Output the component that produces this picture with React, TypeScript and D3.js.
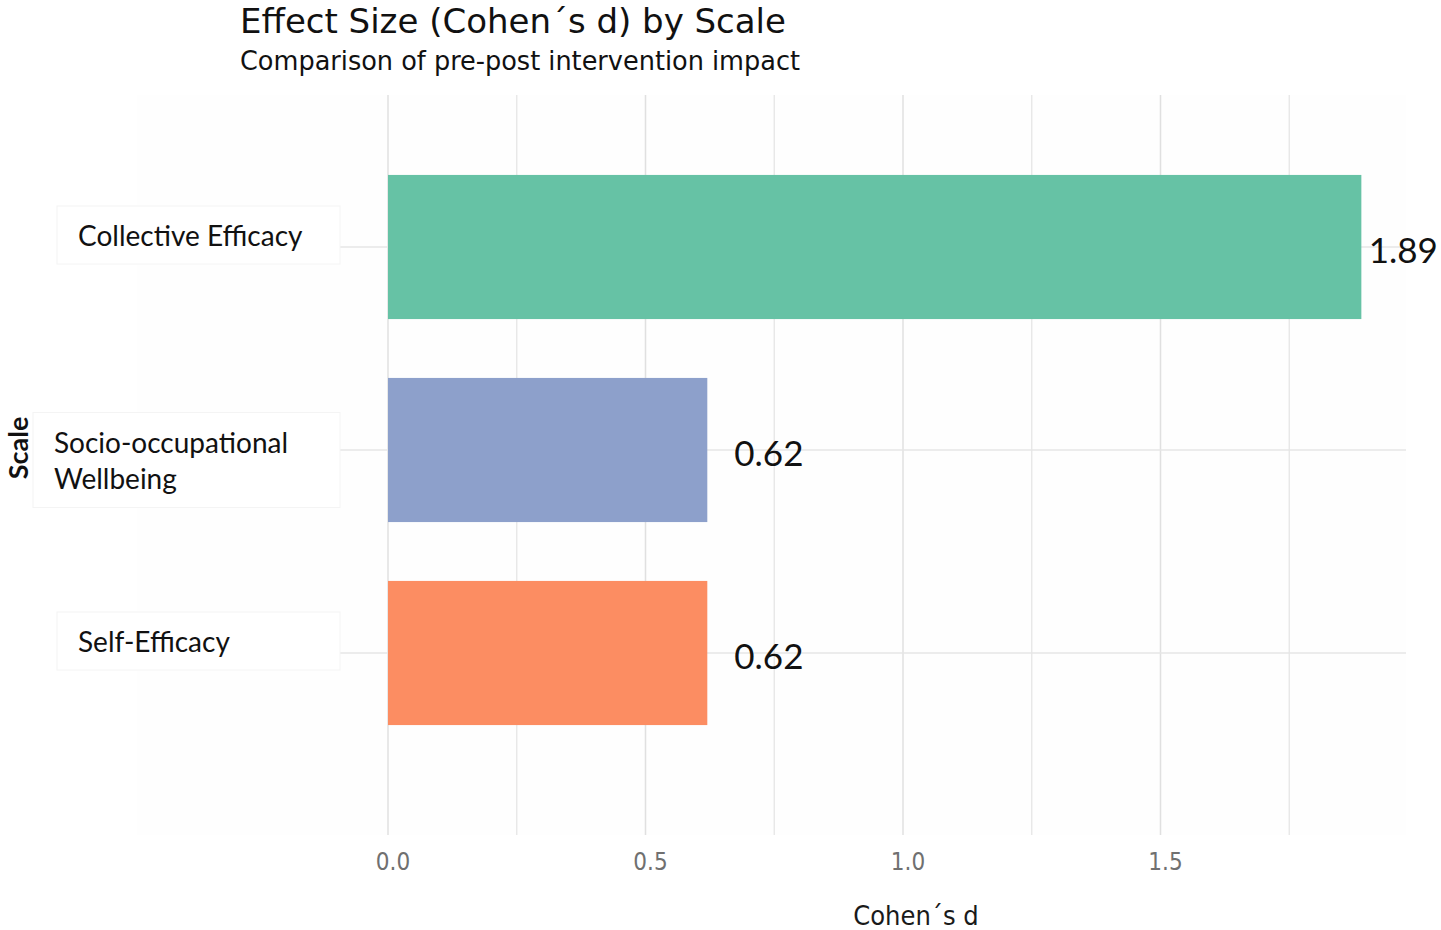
import * as React from 'react';
import {useEffect, useRef} from 'react';
import {select as d3Select, scaleLinear as d3ScaleLinear, scaleBand as d3ScaleBand} from 'd3';

const scales = ['Collective Efficacy', 'Socio-occupational Wellbeing', 'Self-Efficacy'];
const scaleLines = [['Collective Efficacy'], ['Socio-occupational', 'Wellbeing'], ['Self-Efficacy']];
const cohensD = [1.89, 0.62, 0.62];
const barColors = ['#66c2a5', '#8da0cb', '#fc8d62'];
const majorTicks = [0, 0.5, 1.0, 1.5];
const minorTicks = [0.25, 0.75, 1.25, 1.75];

const title = 'Effect Size (Cohen\u00b4s d) by Scale';
const subtitle = 'Comparison of pre-post intervention impact';
const xTitle = 'Cohen\u00b4s d';
const yTitle = 'Scale';

const W = 1441;
const H = 930;
const CONDENSED = "'Liberation Sans Narrow', 'DejaVu Sans Condensed', 'Roboto', sans-serif";
const LABEL_FONT = "'Lato', 'Open Sans', sans-serif";

export default function App() {
  const ref = useRef<SVGSVGElement>(null);

  useEffect(() => {
    const svg = d3Select(ref.current);
    svg.selectAll('*').remove();

    const panel = {left: 137, right: 1406, top: 95, bottom: 835};

    // x: 0 sits at 388px, 1 unit ~ 515px
    const x = d3ScaleLinear().domain([0, 1]).range([388, 903]);
    const y = d3ScaleBand<string>()
      .domain(scales)
      .range([145.5, 754.5])
      .paddingInner(0.29)
      .paddingOuter(0.145);

    svg.append('rect')
      .attr('x', 0).attr('y', 0).attr('width', W).attr('height', H)
      .attr('fill', '#ffffff');

    svg.append('rect')
      .attr('x', panel.left).attr('y', panel.top)
      .attr('width', panel.right - panel.left).attr('height', panel.bottom - panel.top)
      .attr('fill', '#fefefe');

    // vertical gridlines
    const grid = svg.append('g');
    grid.selectAll('line.minor')
      .data(minorTicks)
      .enter().append('line')
      .attr('class', 'minor')
      .attr('x1', (d) => x(d)).attr('x2', (d) => x(d))
      .attr('y1', panel.top).attr('y2', panel.bottom)
      .attr('stroke', '#e6e6e6').attr('stroke-width', 1.3);
    grid.selectAll('line.major')
      .data(majorTicks)
      .enter().append('line')
      .attr('class', 'major')
      .attr('x1', (d) => x(d)).attr('x2', (d) => x(d))
      .attr('y1', panel.top).attr('y2', panel.bottom)
      .attr('stroke', '#e0e0e0').attr('stroke-width', 1.5);

    // horizontal gridlines (start where the label boxes end)
    grid.selectAll('line.h')
      .data(scales)
      .enter().append('line')
      .attr('class', 'h')
      .attr('x1', 340).attr('x2', panel.right)
      .attr('y1', (d) => y(d)! + y.bandwidth() / 2)
      .attr('y2', (d) => y(d)! + y.bandwidth() / 2)
      .attr('stroke', '#e6e6e6').attr('stroke-width', 1.5);

    // bars
    svg.append('g').selectAll('rect')
      .data(scales)
      .enter().append('rect')
      .attr('x', x(0))
      .attr('y', (d) => y(d)!)
      .attr('width', (_, i) => x(cohensD[i]) - x(0))
      .attr('height', y.bandwidth())
      .attr('fill', (_, i) => barColors[i]);

    // value labels
    const labelSize = 35;
    svg.append('g').selectAll('text')
      .data(scales)
      .enter().append('text')
      .attr('x', (_, i) => Math.min(x(cohensD[i]) + 27, W - 4 - labelSize * 1.95))
      .attr('y', (d) => y(d)! + y.bandwidth() / 2 + 2)
      .attr('dominant-baseline', 'central')
      .style('font-family', LABEL_FONT)
      .style('font-size', `${labelSize}px`)
      .attr('fill', '#111')
      .text((_, i) => cohensD[i].toFixed(2));

    // category labels in their faint boxes
    const cats = svg.append('g');
    scales.forEach((s, i) => {
      const lines = scaleLines[i];
      const multi = lines.length > 1;
      const cy = y(s)! + y.bandwidth() / 2 + (multi ? 10 : -12);
      const boxH = multi ? 95 : 58;
      const boxX = multi ? 33 : 57;
      cats.append('rect')
        .attr('x', boxX).attr('y', cy - boxH / 2)
        .attr('width', 340 - boxX).attr('height', boxH)
        .attr('fill', '#ffffff').attr('stroke', '#f4f4f4');
      const t = cats.append('text')
        .style('font-family', LABEL_FONT)
        .style('font-size', '28px')
        .attr('fill', '#111');
      lines.forEach((ln, j) => {
        t.append('tspan')
          .attr('x', boxX + 21)
          .attr('y', cy + (j - (lines.length - 1) / 2) * 36)
          .attr('dominant-baseline', 'central')
          .text(ln);
      });
    });

    // x tick labels
    svg.append('g').selectAll('text')
      .data(majorTicks)
      .enter().append('text')
      .attr('x', (d) => x(d) + 5)
      .attr('y', 862)
      .attr('text-anchor', 'middle')
      .attr('dominant-baseline', 'central')
      .style('font-family', CONDENSED)
      .style('font-size', '24px')
      .attr('fill', '#707070')
      .text((d) => d.toFixed(1));

    // axis titles
    svg.append('text')
      .attr('x', 916).attr('y', 915)
      .attr('text-anchor', 'middle')
      .attr('dominant-baseline', 'central')
      .style('font-family', CONDENSED)
      .style('font-size', '27px')
      .attr('fill', '#1a1a1a')
      .text(xTitle);

    svg.append('text')
      .attr('transform', 'translate(17, 448) rotate(-90)')
      .attr('text-anchor', 'middle')
      .attr('dominant-baseline', 'central')
      .style('font-family', LABEL_FONT)
      .style('font-size', '27px')
      .style('font-weight', 'bold')
      .attr('fill', '#111')
      .text(yTitle);

    // title + subtitle
    svg.append('text')
      .attr('x', 240).attr('y', 33)
      .attr('textLength', 546)
      .attr('lengthAdjust', 'spacingAndGlyphs')
      .style('font-family', CONDENSED)
      .style('font-size', '34px')
      .attr('fill', '#111')
      .text(title);

    svg.append('text')
      .attr('x', 240).attr('y', 70)
      .attr('textLength', 560)
      .attr('lengthAdjust', 'spacingAndGlyphs')
      .style('font-family', CONDENSED)
      .style('font-size', '26px')
      .attr('fill', '#111')
      .text(subtitle);
  }, []);

  return <svg ref={ref} width={W} height={H}
    style={{position: 'absolute', left: 0, top: 0, display: 'block'}} />;
}
